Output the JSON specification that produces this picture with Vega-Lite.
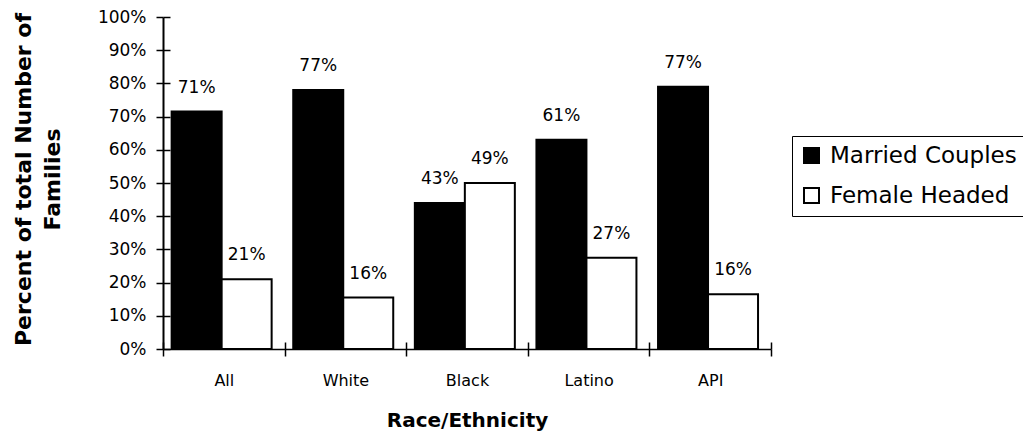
{
  "$schema": "https://vega.github.io/schema/vega-lite/v6.json",
  "width": 608,
  "height": 332,
  "autosize": "none",
  "padding": {"left": 163, "top": 17, "right": 252, "bottom": 91},
  "background": "white",
  "config": {"view": {"stroke": null}, "font": "DejaVu Sans", "axis": {"grid": false}},
  "data": {"values": [
    {"race": "All", "series": "Married Couples", "value": 71.5, "label": "71%"},
    {"race": "All", "series": "Female Headed", "value": 21, "label": "21%"},
    {"race": "White", "series": "Married Couples", "value": 78, "label": "77%"},
    {"race": "White", "series": "Female Headed", "value": 15.5, "label": "16%"},
    {"race": "Black", "series": "Married Couples", "value": 44, "label": "43%"},
    {"race": "Black", "series": "Female Headed", "value": 50, "label": "49%"},
    {"race": "Latino", "series": "Married Couples", "value": 63, "label": "61%"},
    {"race": "Latino", "series": "Female Headed", "value": 27.5, "label": "27%"},
    {"race": "API", "series": "Married Couples", "value": 79, "label": "77%"},
    {"race": "API", "series": "Female Headed", "value": 16.5, "label": "16%"}
  ]},
  "layer": [
    {
      "mark": {"type": "bar", "stroke": "black", "strokeWidth": 2},
      "encoding": {
        "x": {"field": "race", "type": "nominal", "sort": ["All", "White", "Black", "Latino", "API"],
          "scale": {"paddingInner": 0, "paddingOuter": 0},
          "axis": {"orient": "bottom", "title": "Race/Ethnicity", "labelAngle": 0, "labelFontSize": 16, "labelColor": "black",
            "labelPadding": 16, "tickBand": "extent", "tickSize": 7, "tickWidth": 1.5, "tickColor": "black",
            "domainColor": "black", "domainWidth": 1.5, "titleFontSize": 20, "titleFontWeight": "bold", "titleColor": "black",
            "titleY": 71, "titleBaseline": "middle"}},
        "xOffset": {"field": "series", "sort": ["Married Couples", "Female Headed"], "scale": {"paddingInner": 0, "paddingOuter": 0.216, "align": 0.4}},
        "y": {"field": "value", "type": "quantitative", "scale": {"domain": [0, 100]},
          "axis": {"orient": "left", "values": [0, 10, 20, 30, 40, 50, 60, 70, 80, 90, 100], "labelExpr": "datum.value + '%'",
            "labelFontSize": 17, "labelColor": "black", "labelPadding": 10, "tickSize": 7, "tickWidth": 1.5, "tickColor": "black",
            "domainColor": "black", "domainWidth": 2,
            "title": ["Percent of total Number of", "Families"], "titleFontSize": 22, "titleFontWeight": "bold", "titleColor": "black",
            "titleLineHeight": 29, "titleX": -128, "titleY": 162, "titleBaseline": "bottom", "titleAlign": "center", "titleAngle": -90}},
        "fill": {"field": "series", "type": "nominal", "scale": {"domain": ["Married Couples", "Female Headed"], "range": ["black", "white"]},
          "legend": {"title": null, "orient": "none", "legendX": 629, "legendY": 119, "strokeColor": "black", "fillColor": "white",
            "padding": 8, "symbolType": "square", "symbolSize": 225, "symbolStrokeColor": "black", "symbolStrokeWidth": 2,
            "labelFontSize": 23, "labelColor": "black", "rowPadding": 16, "labelOffset": 7, "labelLimit": 400}}
      }
    },
    {
      "mark": {"type": "text", "dy": -24, "fontSize": 17, "baseline": "middle", "align": "center", "color": "black"},
      "encoding": {
        "x": {"field": "race", "type": "nominal", "sort": ["All", "White", "Black", "Latino", "API"],
          "axis": {"orient": "bottom", "title": null, "labels": false, "domain": false, "tickBand": "extent", "tickSize": -7, "tickWidth": 1.5, "tickColor": "black"}},
        "xOffset": {"field": "series", "sort": ["Married Couples", "Female Headed"]},
        "y": {"field": "value", "type": "quantitative",
          "axis": {"orient": "left", "title": null, "labels": false, "domain": false, "values": [0, 10, 20, 30, 40, 50, 60, 70, 80, 90, 100], "tickSize": -7, "tickWidth": 1.5, "tickColor": "black"}},
        "text": {"field": "label"}
      }
    }
  ],
  "resolve": {"axis": {"x": "independent", "y": "independent"}}
}
